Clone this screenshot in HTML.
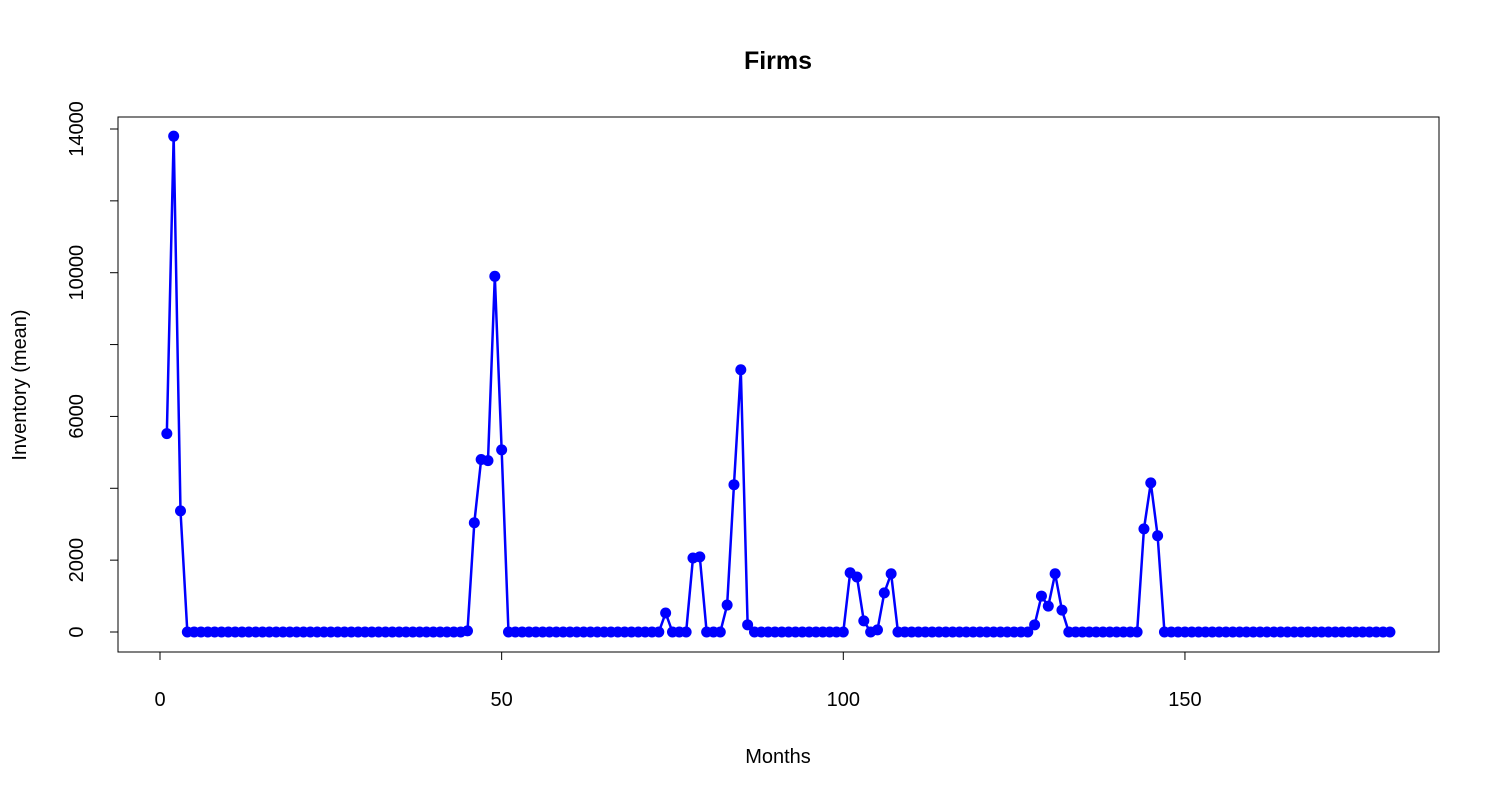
<!DOCTYPE html>
<html><head><meta charset="utf-8"><style>
body{margin:0;background:#fff}
svg{font-family:"Liberation Sans",Arial,sans-serif}
</style></head><body>
<svg id="chart" width="1500" height="800">
<text x="778" y="69" text-anchor="middle" font-size="25" font-weight="bold">Firms</text>
<rect x="118" y="117" width="1321" height="535" fill="none" stroke="#000" stroke-width="1"/>
<text x="778" y="763" text-anchor="middle" font-size="20">Months</text>
<text transform="translate(26,385) rotate(-90)" text-anchor="middle" font-size="20">Inventory (mean)</text>
<g id="axes"></g>
<g id="series"></g>
</svg>
<script>
const zeros=n=>Array(n).fill(0);
const months=Array.from({length:180},(_,i)=>i+1);
const inventory=[5520,13800,3370].concat(zeros(41),[30,3040,4800,4770,9900,5070],zeros(23),[530,0,0,0,2060,2090,0,0,0,750,4100,7300,200],zeros(14),[1650,1530,310,0,60,1090,1620],zeros(20),[200,1000,720,1620,610],zeros(11),[2870,4150,2680],zeros(34));
const xTicks=[0,50,100,150];
const yTicks=[0,2000,4000,6000,8000,10000,12000,14000];
const yLabels=["0","2000","","6000","","10000","","14000"];
const NS="http://www.w3.org/2000/svg";
const sx=v=>160+v*6.833;
const sy=v=>632-v*0.035929;
const axes=document.getElementById('axes'),series=document.getElementById('series');
function mk(tag,at,parent){const e=document.createElementNS(NS,tag);for(const k in at)e.setAttribute(k,at[k]);parent.appendChild(e);return e;}
mk('line',{x1:sx(0),x2:sx(150),y1:652,y2:652,stroke:'#000'},axes);
xTicks.forEach(t=>{
 const l=mk('line',{x1:sx(t),x2:sx(t),y1:652,y2:660,stroke:'#000'},axes);
 
 
 const tx=mk('text',{x:sx(t),y:706,'text-anchor':'middle','font-size':20},axes);tx.textContent=t;
 
 
});
mk('line',{x1:118,x2:118,y1:sy(0),y2:sy(14000),stroke:'#000'},axes);
yTicks.forEach((t,i)=>{
 const l=mk('line',{x1:110,x2:118,y1:sy(t),y2:sy(t),stroke:'#000'},axes);
 
 
 if(yLabels[i]){const tx=mk('text',{transform:`translate(83,${sy(t)}) rotate(-90)`,'text-anchor':'middle','font-size':20},axes);tx.textContent=yLabels[i];
 
 }
});
const pl=mk('polyline',{points:months.map((m,i)=>sx(m)+','+sy(inventory[i])).join(' '),fill:'none',stroke:'#0000ff','stroke-width':2.5},series);


months.forEach((m,i)=>{
 const c=mk('circle',{cx:sx(m),cy:sy(inventory[i]),r:5.5,fill:'#0000ff'},series);
 
 
});
</script>
</body></html>
